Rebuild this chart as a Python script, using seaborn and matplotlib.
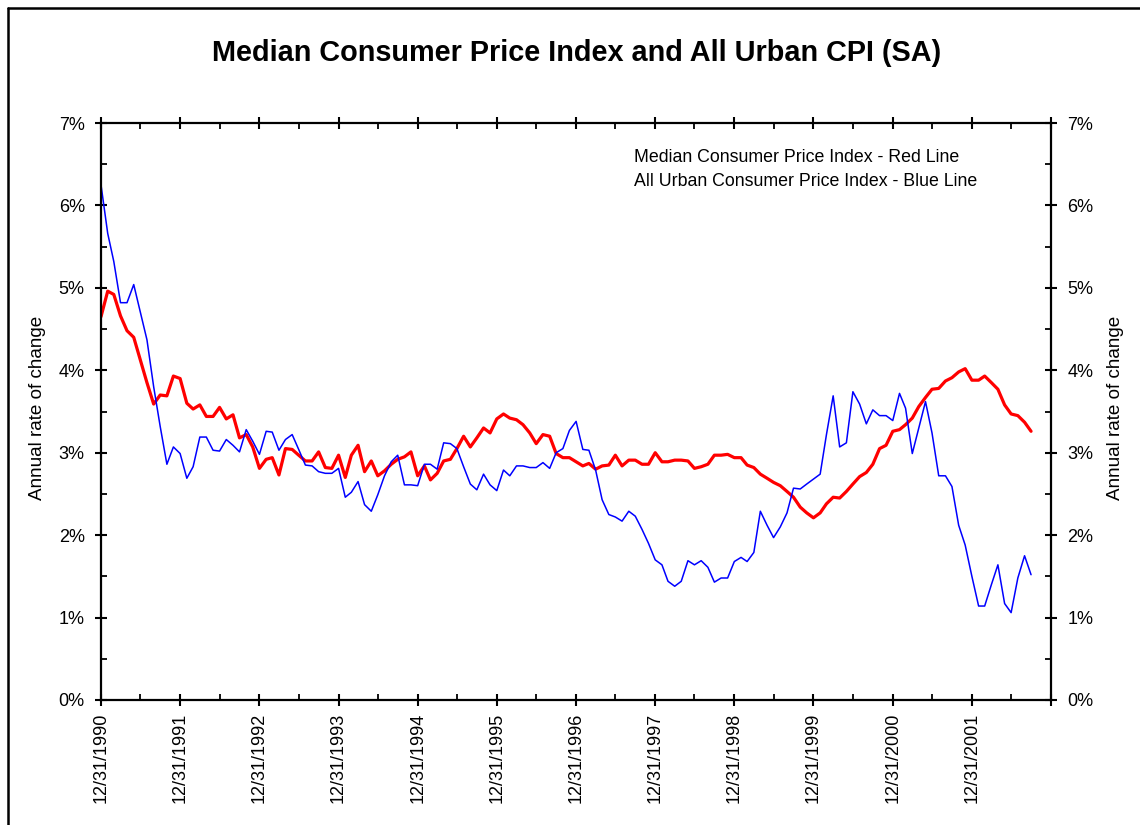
import numpy as np
import pandas as pd
import matplotlib
matplotlib.use("Agg")
import matplotlib.pyplot as plt
import matplotlib.dates as mdates
import matplotlib.ticker as mticker
from matplotlib.lines import Line2D
import seaborn as sns

# ---------------- data (annual rate of change, %) ----------------
start_date = "1990-12-31"

median_cpi = [
    4.65, 4.96, 4.92, 4.66, 4.48, 4.40, 4.13, 3.85, 3.59, 3.70, 3.69, 3.93, 3.90, 3.60, 3.53,
    3.58, 3.44, 3.44, 3.55, 3.41, 3.46, 3.18, 3.22, 3.07, 2.81, 2.92, 2.94, 2.73, 3.05,
    3.04, 2.97, 2.90, 2.90, 3.01, 2.82, 2.81, 2.97, 2.70, 2.97, 3.09, 2.77, 2.90, 2.72,
    2.78, 2.86, 2.92, 2.95, 3.01, 2.72, 2.84, 2.67, 2.75,
    2.90, 2.92, 3.05, 3.20, 3.07, 3.18, 3.30, 3.24, 3.41, 3.47, 3.42, 3.40, 3.34, 3.24,
    3.11, 3.22, 3.20, 2.99, 2.94, 2.94, 2.89, 2.84, 2.87, 2.80,
    2.84, 2.85, 2.97, 2.84, 2.91, 2.91, 2.86, 2.86, 3.00, 2.89, 2.89, 2.91, 2.91, 2.90,
    2.81, 2.83, 2.86, 2.97, 2.97, 2.98, 2.94, 2.94, 2.85, 2.82, 2.74, 2.69, 2.64,
    2.60, 2.53, 2.46, 2.34, 2.27, 2.21, 2.27, 2.38, 2.46, 2.45, 2.53, 2.62, 2.71, 2.76,
    2.86, 3.05, 3.09, 3.26, 3.28, 3.34, 3.42, 3.56, 3.67, 3.77, 3.78, 3.87, 3.91, 3.98,
    4.02, 3.88, 3.88, 3.93, 3.85, 3.77, 3.58, 3.47, 3.45, 3.37, 3.26,
]

all_urban_cpi = [
    6.25, 5.66, 5.32, 4.82, 4.82, 5.04, 4.71, 4.37, 3.80, 3.32, 2.86, 3.07, 2.99, 2.69, 2.83,
    3.19, 3.19, 3.03, 3.02, 3.16, 3.09, 3.01, 3.28, 3.14, 2.98, 3.26, 3.25, 3.03, 3.16,
    3.22, 3.04, 2.85, 2.84, 2.77, 2.75, 2.75, 2.81, 2.46, 2.52, 2.65, 2.37, 2.29, 2.49,
    2.72, 2.89, 2.97, 2.61, 2.61, 2.60, 2.86, 2.86, 2.80,
    3.12, 3.11, 3.05, 2.83, 2.62, 2.55, 2.74, 2.61, 2.54, 2.79, 2.72, 2.84, 2.84, 2.82,
    2.82, 2.88, 2.81, 3.00, 3.05, 3.27, 3.38, 3.04, 3.03, 2.79,
    2.43, 2.25, 2.22, 2.17, 2.29, 2.23, 2.07, 1.90, 1.70, 1.64, 1.44, 1.38, 1.44, 1.69,
    1.64, 1.69, 1.61, 1.43, 1.48, 1.48, 1.68, 1.73, 1.68, 1.79, 2.29, 2.12, 1.97,
    2.10, 2.27, 2.57, 2.56, 2.62, 2.68, 2.74, 3.22, 3.69, 3.07, 3.12, 3.74, 3.59, 3.35,
    3.52, 3.45, 3.45, 3.39, 3.72, 3.54, 2.99, 3.30, 3.62, 3.24, 2.72, 2.72, 2.59, 2.12,
    1.88, 1.50, 1.14, 1.14, 1.40, 1.64, 1.17, 1.06, 1.48, 1.75, 1.52,
]

tick_years = list(range(1990, 2003))
year_labels = ["12/31/1990", "12/31/1991", "12/31/1992", "12/31/1993", "12/31/1994",
               "12/31/1995", "12/31/1996", "12/31/1997", "12/31/1998", "12/31/1999",
               "12/31/2000", "12/31/2001", ""]
y_ticks = [0, 1, 2, 3, 4, 5, 6, 7]

title_text = "Median Consumer Price Index and All Urban CPI (SA)"
note_lines = ["Median Consumer Price Index - Red Line",
              "All Urban Consumer Price Index - Blue Line"]
y_label = "Annual rate of change"

# ---------------- styling ----------------
sns.set_theme(style="white")
plt.rcParams["font.family"] = ["Liberation Sans", "DejaVu Sans"]

W, H = 1140, 825
fig = plt.figure(figsize=(W / 100, H / 100), dpi=100)
fig.patch.set_facecolor("white")

ax_l, ax_r, ax_t, ax_b = 101, 1051, 123, 700
ax = fig.add_axes([ax_l / W, 1 - ax_b / H, (ax_r - ax_l) / W, (ax_b - ax_t) / H])

dates = pd.date_range(start=start_date, periods=len(median_cpi), freq=pd.offsets.MonthEnd())
df = pd.DataFrame({"date": dates, "median": median_cpi, "urban": all_urban_cpi})

sns.lineplot(data=df, x="date", y="median", color="#FF0000", linewidth=2.3, ax=ax)
sns.lineplot(data=df, x="date", y="urban", color="#0000FF", linewidth=1.1, ax=ax)

ax.set_xlabel("")
ax.set_ylabel("")

major_dates = [mdates.date2num(pd.Timestamp(f"{y}-12-31")) for y in tick_years]
minor_dates = [mdates.date2num(pd.Timestamp(f"{y}-06-30")) for y in tick_years[1:]]
ax.set_xlim(major_dates[0], major_dates[-1])
ax.xaxis.set_major_locator(mticker.FixedLocator(major_dates))
ax.xaxis.set_minor_locator(mticker.FixedLocator(minor_dates))
ax.xaxis.set_major_formatter(mticker.FixedFormatter(year_labels))

ax.set_ylim(0, 7)
ax.yaxis.set_major_locator(mticker.FixedLocator(y_ticks))
ax.yaxis.set_minor_locator(mticker.MultipleLocator(0.5))
pct = mticker.FuncFormatter(lambda v, p: f"{v:.0f}%")
ax.yaxis.set_major_formatter(pct)

for s in ax.spines.values():
    s.set_visible(True)
    s.set_color("black")
    s.set_linewidth(1.6)

ax.tick_params(axis="both", which="major", direction="inout", length=9, width=1.5,
               color="black", labelsize=13, pad=7.2, labelcolor="black")
ax.tick_params(axis="x", which="major", pad=4.5)
ax.tick_params(axis="both", which="minor", direction="in", length=4, width=1.3, color="black")
ax.tick_params(axis="x", which="both", bottom=True, top=True)
ax.tick_params(axis="y", which="both", left=True, right=True)
ax.tick_params(axis="x", which="major", labelrotation=90)
ax.grid(False)

ax2 = ax.twinx()
ax2.set_ylim(0, 7)
ax2.yaxis.set_major_locator(mticker.FixedLocator(y_ticks))
ax2.yaxis.set_minor_locator(mticker.MultipleLocator(0.5))
ax2.yaxis.set_major_formatter(pct)
ax2.tick_params(axis="y", which="major", direction="inout", length=9, width=1.5,
                labelsize=13, pad=7.2, color="black", labelcolor="black")
ax2.tick_params(axis="y", which="minor", direction="in", length=4, width=1.3, color="black")
for s in ax2.spines.values():
    s.set_visible(False)
ax2.grid(False)

# title, notes, axis titles
fig.text(576.5 / W, 1 - 61 / H, title_text, ha="center", va="baseline",
         fontsize=20.8, fontweight="bold", color="black")
for i, line in enumerate(note_lines):
    fig.text(634 / W, 1 - (162 + 24 * i) / H, line, ha="left", va="baseline",
             fontsize=12.8, color="black")
fig.text(38 / W, 1 - 408 / H, y_label, rotation=90, ha="center", va="center",
         fontsize=13.6, color="black")
fig.text(1115 / W, 1 - 408 / H, y_label, rotation=90, ha="center", va="center",
         fontsize=13.6, color="black")

# outer frame (top & left edges visible)
fig.add_artist(Line2D([8 / W, 8 / W], [0, 1 - 8 / H], transform=fig.transFigure,
                      color="black", linewidth=1.8))
fig.add_artist(Line2D([8 / W, 1], [1 - 8 / H, 1 - 8 / H], transform=fig.transFigure,
                      color="black", linewidth=1.8))

fig.savefig("out.png", dpi=100, facecolor="white")
